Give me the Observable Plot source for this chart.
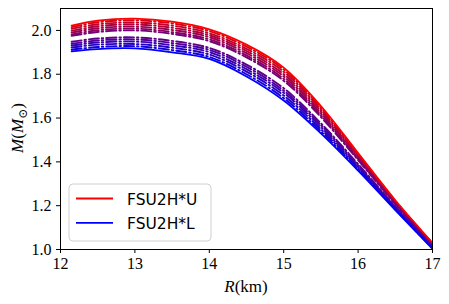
<!DOCTYPE html>
<html><head><meta charset="utf-8">
<script src="https://cdn.jsdelivr.net/npm/d3@7"></script>
<script src="https://cdn.jsdelivr.net/npm/@observablehq/plot@0.6"></script>
<style>
body{margin:0;background:#fff}
#chart{width:449px;height:304px}
#chart svg g[aria-label$="tick label"] text{font-family:"Liberation Serif",serif;font-size:16px}
</style>
</head><body><div id="chart"></div>
<script>
// Radius grid (km) shared by all curves
const radius = [12.15, 12.5, 13.0, 13.5, 14.0, 14.5, 15.0, 15.5, 16.0, 16.5, 17.0];
// FSU2H*U (upper, red) and FSU2H*L (lower, blue) masses (M_sun)
const massU = [2.022, 2.045, 2.054, 2.040, 2.005, 1.935, 1.830, 1.655, 1.440, 1.225, 1.030];
const massL = [1.904, 1.915, 1.918, 1.900, 1.870, 1.790, 1.680, 1.530, 1.360, 1.180, 1.003];
// Intermediate dash-dot curves
const midCurves = [
  [2.015, 2.037, 2.046, 2.032, 1.997, 1.926, 1.821, 1.648, 1.435, 1.222, 1.028],
  [2.007, 2.028, 2.036, 2.022, 1.987, 1.916, 1.811, 1.639, 1.430, 1.219, 1.027],
  [1.998, 2.019, 2.027, 2.012, 1.978, 1.906, 1.800, 1.630, 1.424, 1.216, 1.025],
  [1.990, 2.010, 2.017, 2.002, 1.969, 1.896, 1.790, 1.621, 1.418, 1.213, 1.023],
  [1.982, 2.001, 2.008, 1.992, 1.959, 1.886, 1.779, 1.613, 1.413, 1.210, 1.021],
  [1.975, 1.993, 2.000, 1.984, 1.951, 1.877, 1.770, 1.605, 1.408, 1.207, 1.019],
  [1.948, 1.963, 1.968, 1.952, 1.920, 1.844, 1.736, 1.576, 1.390, 1.197, 1.013],
  [1.939, 1.954, 1.959, 1.942, 1.911, 1.834, 1.725, 1.568, 1.384, 1.194, 1.011],
  [1.931, 1.945, 1.949, 1.932, 1.901, 1.823, 1.715, 1.559, 1.378, 1.190, 1.009],
  [1.922, 1.935, 1.938, 1.921, 1.890, 1.812, 1.703, 1.549, 1.372, 1.187, 1.007],
  [1.912, 1.924, 1.928, 1.910, 1.879, 1.800, 1.691, 1.539, 1.366, 1.183, 1.005]
];
const xTicks = [12, 13, 14, 15, 16, 17];
const yTicks = [1.0, 1.2, 1.4, 1.6, 1.8, 2.0];
const seriesNames = ["FSU2H*U", "FSU2H*L"];
const seriesColors = ["#ff0000", "#0000ff"];

const nMid = midCurves.length;
const midColor = k => { const t = (k + 1) / (nMid + 1); return d3.rgb(235 * (1 - t), 0, 235 * t).formatHex(); };
const midRows = [];
midCurves.forEach((ms, k) => ms.forEach((m, j) => midRows.push({R: radius[j], M: m, k, c: midColor(k)})));
const uRows = radius.map((r, j) => ({R: r, M: massU[j]}));
const lRows = radius.map((r, j) => ({R: r, M: massL[j]}));

const serif = "'Liberation Serif', 'DejaVu Serif', serif";
const chart = Plot.plot({
  width: 449, height: 304,
  marginLeft: 60, marginRight: 17, marginTop: 8, marginBottom: 55,
  style: {background: "white", fontSize: "16px", color: "black"},
  x: {domain: [12, 17]},
  y: {domain: [1.0, 2.1]},
  color: {type: "identity"},
  marks: [
    Plot.line(midRows, {x: "R", y: "M", z: "k", stroke: "c", strokeWidth: 1.9,
      strokeDasharray: "10,3,1.5,3", curve: "catmull-rom", clip: true}),
    Plot.line(lRows, {x: "R", y: "M", stroke: seriesColors[1], strokeWidth: 1.8, curve: "catmull-rom", clip: true}),
    Plot.line(uRows, {x: "R", y: "M", stroke: seriesColors[0], strokeWidth: 1.8, curve: "catmull-rom", clip: true}),
    Plot.frame({stroke: "black", strokeWidth: 1}),
    Plot.axisX({ticks: xTicks, tickSize: 4, tickPadding: 4, label: null, fontSize: 16, tickFormat: d => String(d)}),
    Plot.axisY({ticks: yTicks, tickSize: 4, tickPadding: 5, label: null, fontSize: 16, tickFormat: d => d.toFixed(1)})
  ]
});
document.getElementById("chart").appendChild(chart);

const svg = d3.select(chart);
// x label
const xl = svg.append("text").attr("x", 246).attr("y", 292).attr("text-anchor", "middle")
  .attr("font-family", serif).attr("font-size", 17).attr("fill", "black");
xl.append("tspan").attr("font-style", "italic").text("R");
xl.append("tspan").text("(km)");
// y label
const yl = svg.append("text").attr("transform", "translate(23,128) rotate(-90)").attr("text-anchor", "middle")
  .attr("font-family", serif).attr("font-size", 17).attr("fill", "black");
yl.append("tspan").attr("font-style", "italic").text("M");
yl.append("tspan").text("(");
yl.append("tspan").attr("font-style", "italic").text("M");
yl.append("tspan").attr("font-size", 12).attr("dy", 4).text("⊙");
yl.append("tspan").attr("dy", -4).text(")");
// legend
const lg = svg.append("g");
lg.append("rect").attr("x", 69).attr("y", 184).attr("width", 142).attr("height", 57).attr("rx", 4)
  .attr("fill", "white").attr("fill-opacity", 0.8).attr("stroke", "#d0d0d0");
seriesNames.forEach((name, i) => {
  const y = 198.5 + i * 24.3;
  lg.append("line").attr("x1", 76).attr("x2", 113).attr("y1", y).attr("y2", y)
    .attr("stroke", seriesColors[i]).attr("stroke-width", 1.8);
  lg.append("text").attr("x", 127).attr("y", y + 6).attr("text-anchor", "start")
    .style("font-family", "'DejaVu Sans', sans-serif")
    .attr("font-size", 15.5).attr("fill", "black").text(name);
});
</script>
</body></html>
